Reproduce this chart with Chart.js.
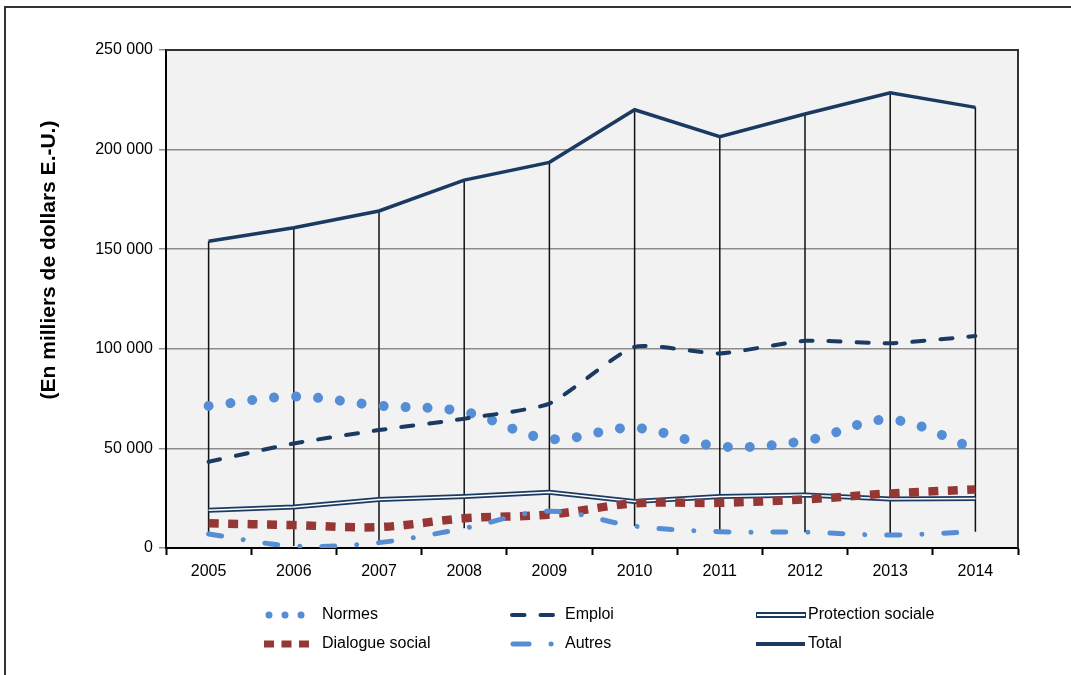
<!DOCTYPE html>
<html lang="fr">
<head>
<meta charset="utf-8">
<title>Dépenses par domaine</title>
<script src="https://cdn.jsdelivr.net/npm/chart.js@4.4.1/dist/chart.umd.min.js"></script>
<style>
  html, body { margin: 0; padding: 0; background: #fff; }
  #wrap { position: relative; width: 1071px; height: 675px; }
</style>
</head>
<body>
<div id="wrap"><canvas id="graphique" width="1071" height="675"></canvas></div>
<script>
const annees = ["2005", "2006", "2007", "2008", "2009", "2010", "2011", "2012", "2013", "2014"];
const normes = [71300, 76000, 71500, 68400, 54800, 60300, 51000, 53800, 64400, 49700];
const emploi = [43300, 52500, 59200, 64900, 72500, 101000, 97700, 104000, 102800, 106400];
const protection = [18900, 20600, 24400, 25800, 28000, 23300, 25800, 26600, 24600, 24900];
const dialogue = [12400, 11500, 10500, 14900, 16800, 22400, 22700, 24400, 27400, 29400];
const autres = [7000, 1000, 2700, 9900, 18500, 11000, 8200, 7900, 6500, 8200];
const total = [154000, 160800, 169200, 184700, 193600, 220000, 206500, 217900, 228500, 221200];
const yTicks = [0, 50000, 100000, 150000, 200000, 250000];

const BLEU = "#558ed5";
const MARINE = "#1b3a62";
const BORDEAUX = "#953735";
const POLICE = "'Liberation Sans', Arial, sans-serif";

const formatMilliers = v => String(v).replace(/\B(?=(\d{3})+(?!\d))/g, " ");

// fond gris de la zone de tracé, cadre extérieur, lignes haut-bas
const decor = {
  id: "decor",
  beforeDraw(chart) {
    const { ctx, chartArea: a } = chart;
    ctx.save();
    ctx.fillStyle = "#f2f2f2";
    ctx.fillRect(a.left, a.top, a.right - a.left, a.bottom - a.top);
    ctx.restore();
  },
  beforeDatasetsDraw(chart) {
    const { ctx, chartArea: a, scales } = chart;
    ctx.save();
    // bord haut et droit de la zone de tracé
    ctx.strokeStyle = "#333";
    ctx.lineWidth = 2;
    ctx.beginPath();
    ctx.moveTo(a.left, a.top);
    ctx.lineTo(a.right, a.top);
    ctx.lineTo(a.right, a.bottom);
    ctx.stroke();

    // lignes haut-bas : du maximum au minimum de chaque année
    const series = [normes, emploi, protection, dialogue, autres, total];
    ctx.strokeStyle = "#111";
    ctx.lineWidth = 1.5;
    annees.forEach((an, i) => {
      const vals = series.map(s => s[i]);
      const x = scales.x.getPixelForValue(i);
      ctx.beginPath();
      ctx.moveTo(x, scales.y.getPixelForValue(Math.max(...vals)));
      ctx.lineTo(x, scales.y.getPixelForValue(Math.min(...vals)));
      ctx.stroke();
    });
    ctx.restore();
  },
  afterDraw(chart) {
    const { ctx } = chart;
    ctx.save();
    // cadre du graphique
    ctx.strokeStyle = "#333";
    ctx.lineWidth = 2;
    ctx.beginPath();
    ctx.moveTo(5, 675);
    ctx.lineTo(5, 7);
    ctx.lineTo(1071, 7);
    ctx.stroke();

    // titre de l'axe vertical
    ctx.translate(49, 260);
    ctx.rotate(-Math.PI / 2);
    ctx.fillStyle = "#000";
    ctx.font = "bold 21px " + POLICE;
    ctx.textAlign = "center";
    ctx.textBaseline = "middle";
    ctx.fillText("(En milliers de dollars E.-U.)", 0, 0);
    ctx.restore();

    dessinerLegende(ctx);
  }
};

function trait(ctx, x1, x2, y, couleur, largeur, tirets, bout) {
  ctx.save();
  ctx.strokeStyle = couleur;
  ctx.lineWidth = largeur;
  ctx.lineCap = bout || "butt";
  ctx.setLineDash(tirets || []);
  ctx.beginPath();
  ctx.moveTo(x1, y);
  ctx.lineTo(x2, y);
  ctx.stroke();
  ctx.restore();
}

// légende sur trois colonnes
function dessinerLegende(ctx) {
  const l1 = 615, l2 = 644;
  trait(ctx, 269, 303, l1, BLEU, 7, [0.01, 16], "round");
  trait(ctx, 264, 310, l2, BORDEAUX, 7, [10, 7.5]);
  trait(ctx, 512, 556, l1, MARINE, 4, [12.5, 16], "round");
  trait(ctx, 513, 529, l2, BLEU, 5, [], "round");
  trait(ctx, 551, 551.1, l2, BLEU, 5, [], "round");
  trait(ctx, 756, 806, l1, MARINE, 6);
  trait(ctx, 757, 805, l1, "#fff", 2);
  trait(ctx, 756, 805, l2, MARINE, 4);

  ctx.save();
  ctx.fillStyle = "#000";
  ctx.font = "16px " + POLICE;
  ctx.textBaseline = "middle";
  ctx.fillText("Normes", 322, l1);
  ctx.fillText("Dialogue social", 322, l2);
  ctx.fillText("Emploi", 565, l1);
  ctx.fillText("Autres", 565, l2);
  ctx.fillText("Protection sociale", 808, l1);
  ctx.fillText("Total", 808, l2);
  ctx.restore();
}

const commun = { pointRadius: 0, pointHoverRadius: 0, fill: false };

new Chart(document.getElementById("graphique"), {
  type: "line",
  data: {
    labels: annees,
    datasets: [
      { ...commun, label: "Normes", data: normes, borderColor: BLEU, borderWidth: 10,
        borderDash: [0.01, 22], borderCapStyle: "round", tension: 0.35, order: 6 },
      { ...commun, label: "Emploi", data: emploi, borderColor: MARINE, borderWidth: 4,
        borderDash: [12, 16], borderCapStyle: "round", tension: 0.18, order: 5 },
      { ...commun, label: "Protection sociale", data: protection, borderColor: MARINE,
        borderWidth: 5, tension: 0, order: 4 },
      { ...commun, label: "", data: protection, borderColor: "#ffffff",
        borderWidth: 1.5, tension: 0, order: 3.5 },
      { ...commun, label: "Dialogue social", data: dialogue, borderColor: BORDEAUX, borderWidth: 8.5,
        borderDash: [10, 9.5], tension: 0.35, order: 3 },
      { ...commun, label: "Autres", data: autres, borderColor: BLEU, borderWidth: 5,
        borderDash: [13, 22, 0.01, 22], borderCapStyle: "round", tension: 0.35, order: 2 },
      { ...commun, label: "Total", data: total, borderColor: MARINE, borderWidth: 3.5,
        tension: 0, order: 1 }
    ]
  },
  options: {
    responsive: false,
    animation: false,
    events: [],
    layout: { padding: { left: 0, right: 53, top: 50, bottom: 0 } },
    plugins: {
      legend: { display: false },
      tooltip: { enabled: false },
      title: { display: false }
    },
    scales: {
      x: {
        offset: true,
        grid: { offset: true, drawOnChartArea: false, tickLength: 7, tickColor: "#000", tickWidth: 2 },
        border: { color: "#000", width: 2 },
        ticks: { color: "#000", font: { family: POLICE, size: 16 }, padding: 7, maxRotation: 0 },
        afterFit: s => { s.height = 127; }
      },
      y: {
        min: 0,
        max: 250000,
        afterBuildTicks: s => { s.ticks = yTicks.map(v => ({ value: v })); },
        ticks: { color: "#000", font: { family: POLICE, size: 16 }, padding: 6, callback: formatMilliers },
        grid: { color: "#8c8c8c", lineWidth: 1.5, tickLength: 7, tickColor: "#8c8c8c" },
        border: { color: "#000", width: 2 },
        afterFit: s => { s.width = 166; }
      }
    }
  },
  plugins: [decor]
});
</script>
</body>
</html>
